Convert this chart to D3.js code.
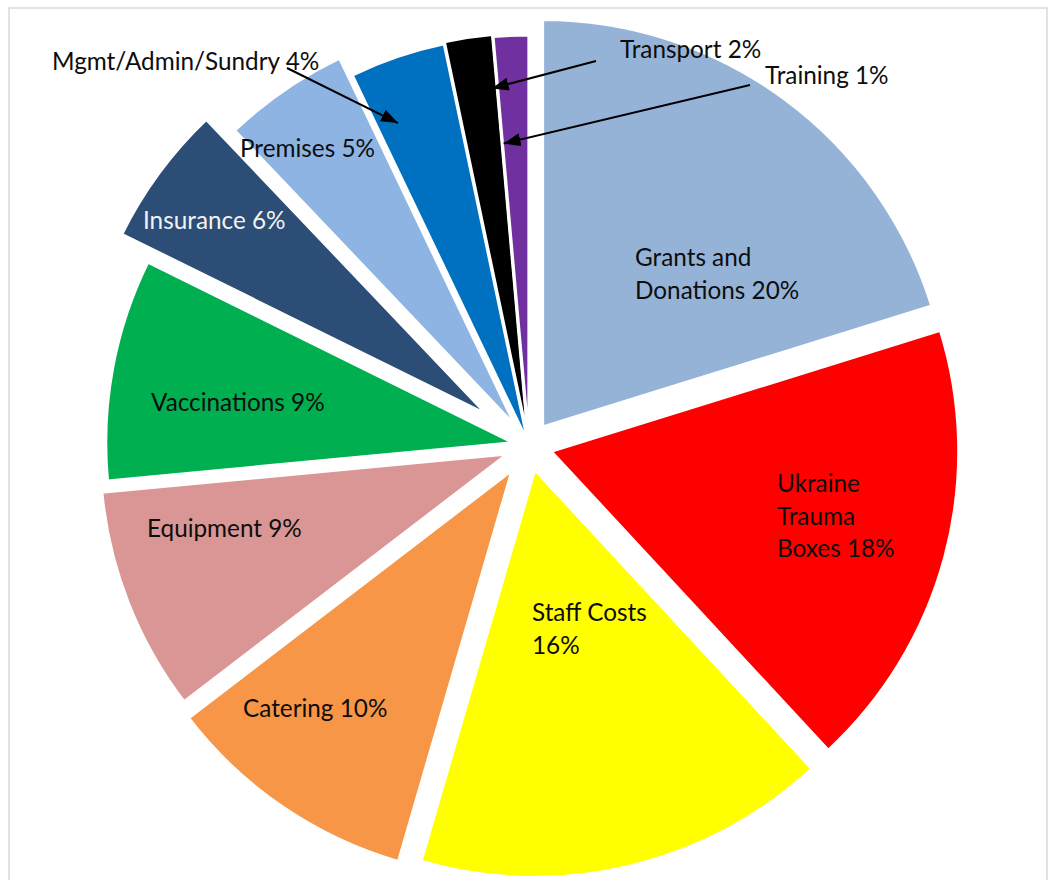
<!DOCTYPE html>
<html><head><meta charset="utf-8">
<script src="https://cdn.jsdelivr.net/npm/d3@7"></script>
<style>body{margin:0;background:#fff;} svg{display:block;}</style>
</head><body>
<script>
// ---- data ----
const categories = ["Grants and Donations","Ukraine Trauma Boxes","Staff Costs","Catering","Equipment","Vaccinations","Insurance","Premises","Mgmt/Admin/Sundry","Transport","Training"];
const values = [20.2,17.9,16.4,10.1,8.9,8.8,5.6,5.0,3.8,1.9,1.4];
const labelLines = [["Grants and","Donations 20%"],["Ukraine","Trauma","Boxes 18%"],["Staff Costs","16%"],["Catering 10%"],["Equipment 9%"],["Vaccinations 9%"],["Insurance 6%"],["Premises 5%"],["Mgmt/Admin/Sundry 4%"],["Transport 2%"],["Training 1%"]];

// ---- styles / layout ----
const colors = ["#95B3D7","#FF0000","#FFFF00","#F79646","#D99694","#00B050","#2C4D75","#8DB4E2","#0070C0","#000000","#7030A0"];
const explode = [23,23,25,30,23,16,52,24,3,5,3];
const labelPos = [[635,266],[777,492],[532,621],[243,717],[147,537],[151,411],[143,229],[240,157],[52,70],[620,58],[765,84]];
const labelColor = ["#0d0d0d","#0d0d0d","#0d0d0d","#0d0d0d","#0d0d0d","#0d0d0d","#f2f2f2","#0d0d0d","#0d0d0d","#0d0d0d","#0d0d0d"];
const leaders = [{i:8, from:[287,68], frac:0.25, r:345},{i:9, from:[596,61], frac:0.87, r:354},{i:10, from:[750,85], frac:0.04, r:300}];

const W = 1049, H = 880, cx = 529, cy = 445.5, R = 407.5;

const svg = d3.select("body").append("svg").attr("width", W).attr("height", H);
svg.append("rect").attr("x",9).attr("y",8).attr("width",1038).attr("height",920)
  .attr("fill","#fff").attr("stroke","#d9d9d9").attr("stroke-width",1.5);

const pie = d3.pie().sort(null).value(d => d)(values);
const arc = d3.arc().innerRadius(0).outerRadius(R);
const g = svg.append("g").attr("transform", `translate(${cx},${cy})`);

function off(d, i){ const a = (d.startAngle + d.endAngle)/2; return [explode[i]*Math.sin(a), -explode[i]*Math.cos(a)]; }

g.selectAll("path.slice").data(pie).join("path").attr("class","slice")
  .attr("d", arc)
  .attr("transform", (d,i) => { const o = off(d,i); return `translate(${o[0]},${o[1]})`; })
  .attr("fill", (d,i) => colors[i])
  .attr("stroke","#fff").attr("stroke-width",3).attr("stroke-linejoin","miter");

// arrow marker
const defs = svg.append("defs");
defs.append("marker").attr("id","arr").attr("markerUnits","userSpaceOnUse")
  .attr("viewBox","0 0 17 13").attr("refX",17).attr("refY",6.5)
  .attr("markerWidth",17).attr("markerHeight",13).attr("orient","auto")
  .append("path").attr("d","M0,0 L17,6.5 L0,13 Z").attr("fill","#000");

leaders.forEach(L => {
  const d = pie[L.i];
  const o = off(d, L.i);
  const a = d.startAngle + L.frac*(d.endAngle - d.startAngle);
  const tx = cx + o[0] + L.r*Math.sin(a), ty = cy + o[1] - L.r*Math.cos(a);
  svg.append("line").attr("x1",L.from[0]).attr("y1",L.from[1]).attr("x2",tx).attr("y2",ty)
    .attr("stroke","#000").attr("stroke-width",2).attr("marker-end","url(#arr)");
});

const lg = svg.append("g").attr("font-family","Lato, 'Open Sans', sans-serif").attr("font-size","24.3px");
labelLines.forEach((lines, i) => {
  const t = lg.append("text").attr("x", labelPos[i][0]).attr("y", labelPos[i][1]).attr("fill", labelColor[i]);
  lines.forEach((s, k) => t.append("tspan").attr("x", labelPos[i][0]).attr("dy", k === 0 ? 0 : 32.5).text(s));
});
</script>
</body></html>
